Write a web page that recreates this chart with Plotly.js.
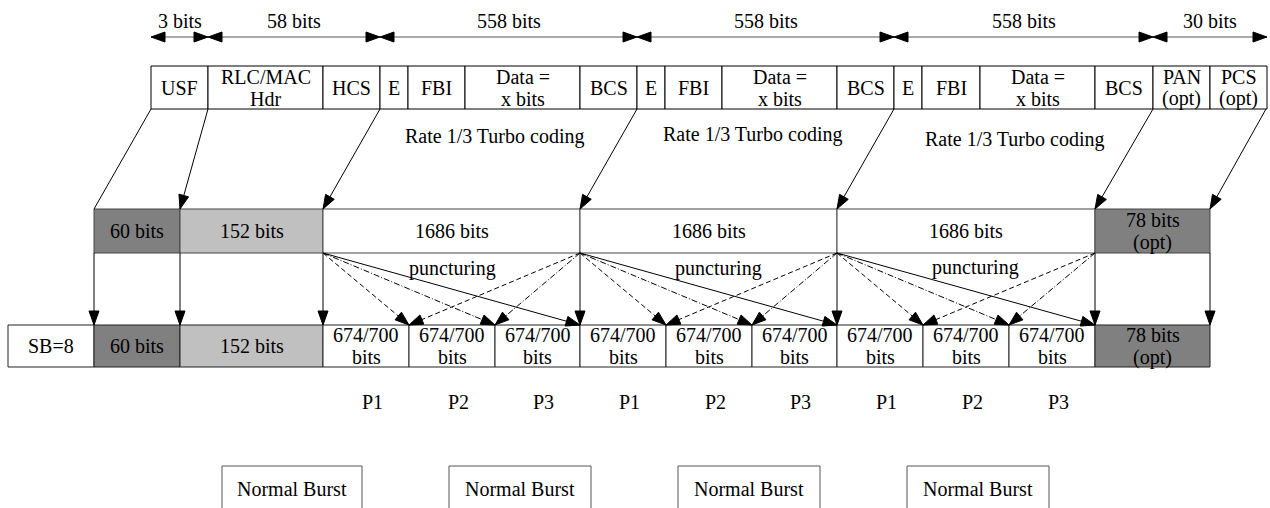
<!DOCTYPE html>
<html>
<head>
<meta charset="utf-8">
<script src="https://cdn.plot.ly/plotly-3.0.1.min.js"></script>
<style>html,body{margin:0;padding:0;background:#fff;}#chart{width:1270px;height:508px;}</style>
</head>
<body>
<div id="chart"></div>
<script>
// ---- content (labels) ----
const spanLabels = ['3 bits', '58 bits', '558 bits', '558 bits', '558 bits', '30 bits'];
const topLabels = ['USF', 'RLC/MAC<br>Hdr', 'HCS',
  'E', 'FBI', 'Data =<br>x bits', 'BCS',
  'E', 'FBI', 'Data =<br>x bits', 'BCS',
  'E', 'FBI', 'Data =<br>x bits', 'BCS',
  'PAN<br>(opt)', 'PCS<br>(opt)'];
const codingLabels = ['Rate 1/3 Turbo coding', 'Rate 1/3 Turbo coding', 'Rate 1/3 Turbo coding'];
const midLabels = ['60 bits', '152 bits', '1686 bits', '1686 bits', '1686 bits', '78 bits<br>(opt)'];
const puncLabels = ['puncturing', 'puncturing', 'puncturing'];
const botLabels = ['SB=8', '60 bits', '152 bits',
  '674/700<br>bits', '674/700<br>bits', '674/700<br>bits',
  '674/700<br>bits', '674/700<br>bits', '674/700<br>bits',
  '674/700<br>bits', '674/700<br>bits', '674/700<br>bits',
  '78 bits<br>(opt)'];
const partLabels = ['P1', 'P2', 'P3', 'P1', 'P2', 'P3', 'P1', 'P2', 'P3'];
const burstLabels = ['Normal Burst', 'Normal Burst', 'Normal Burst', 'Normal Burst'];

// ---- layout geometry (diagram coordinates, not data) ----
const G = {
  spanEdges: [151, 208, 380, 637, 894, 1153, 1267], spanY: 37, spanTextY: 21,
  topEdges: [151, 208, 323, 380, 408, 465, 580, 637, 665, 722, 837, 894, 922, 980, 1095, 1153, 1210, 1267],
  topY: [66, 109],
  codingPos: [[494, 136], [752, 134], [1014, 139]],
  midEdges: [94, 180, 323, 580, 837, 1095, 1210], midY: [209, 253],
  midFill: ['#808080', '#c0c0c0', '#ffffff', '#ffffff', '#ffffff', '#808080'],
  puncPos: [[452, 268], [718, 268], [975, 267]],
  botEdges: [8, 94, 180, 323, 409, 495, 580, 666, 752, 837, 923, 1009, 1095, 1210],
  botY: [325, 367],
  botFill: ['#ffffff', '#808080', '#c0c0c0', '#fff', '#fff', '#fff', '#fff', '#fff', '#fff', '#fff', '#fff', '#fff', '#808080'],
  partY: 402, partShift: 6,
  burstEdges: [[222, 362], [449, 591], [678, 820], [907, 1049]], burstY: [466, 540], burstTextY: 489,
  lineGap: 22
};

const FONT = {family: 'Liberation Serif, Times New Roman, serif', size: 20, color: '#000'};
const shapes = [];
const annotations = [];

function rect(x0, x1, y0, y1, fill, lc) {
  shapes.push({type: 'rect', xref: 'x', yref: 'y', x0, x1, y0, y1,
    fillcolor: fill, line: {color: lc || '#000', width: 1}, layer: 'below'});
}
function line(x0, y0, x1, y1, dash, color) {
  shapes.push({type: 'line', xref: 'x', yref: 'y', x0, y0, x1, y1,
    line: {color: color || '#000', width: 1, dash: dash || 'solid'}});
}
function head(fx, fy, tx, ty, len, hw) {
  len = len || 14; hw = hw || 5;
  const dx = tx - fx, dy = ty - fy, d = Math.hypot(dx, dy);
  const ux = dx / d, uy = dy / d;
  const bx = tx - ux * len, by = ty - uy * len;
  const px = -uy * hw, py = ux * hw;
  shapes.push({type: 'path', xref: 'x', yref: 'y',
    path: `M${tx},${ty} L${bx + px},${by + py} L${bx - px},${by - py} Z`,
    fillcolor: '#000', line: {color: '#000', width: 1}});
}
function arrow(fx, fy, tx, ty, dash) {
  line(fx, fy, tx, ty, dash);
  head(fx, fy, tx, ty);
}
function text(x, y, t) {
  const parts = t.split('<br>');
  const n = parts.length;
  parts.forEach((p, j) => {
    annotations.push({xref: 'x', yref: 'y', x, y: y + (j - (n - 1) / 2) * G.lineGap,
      text: p, showarrow: false, font: FONT, xanchor: 'center', yanchor: 'middle'});
  });
}

// span dimension arrows
for (let i = 0; i < spanLabels.length; i++) {
  const a = G.spanEdges[i], b = G.spanEdges[i + 1], y = G.spanY;
  line(a, y, b, y, 'solid', '#555');
  head(b, y, a, y, 14, 5);
  head(a, y, b, y, 14, 5);
  text((a + b) / 2, G.spanTextY, spanLabels[i]);
}

// top row boxes
for (let i = 0; i < topLabels.length; i++) {
  const a = G.topEdges[i], b = G.topEdges[i + 1];
  rect(a, b, G.topY[0], G.topY[1], '#fff');
  text((a + b) / 2, (G.topY[0] + G.topY[1]) / 2, topLabels[i]);
}
codingLabels.forEach((t, i) => text(G.codingPos[i][0], G.codingPos[i][1], t));

// top -> middle diagonals
const topSrc = [G.topEdges[0], G.topEdges[1], G.topEdges[3], G.topEdges[7], G.topEdges[11], G.topEdges[15], G.topEdges[17] - 1];
topSrc.forEach((sx, i) => {
  const tx = G.midEdges[i];
  if (i === 0) line(sx, G.topY[1], tx, G.midY[0]);
  else arrow(sx, G.topY[1], tx, G.midY[0]);
});

// middle row
for (let i = 0; i < midLabels.length; i++) {
  const a = G.midEdges[i], b = G.midEdges[i + 1];
  rect(a, b, G.midY[0], G.midY[1], G.midFill[i], '#444');
  text((a + b) / 2, (G.midY[0] + G.midY[1]) / 2, midLabels[i]);
}
puncLabels.forEach((t, i) => text(G.puncPos[i][0], G.puncPos[i][1], t));

// vertical arrows middle -> bottom
G.midEdges.forEach(x => arrow(x, G.midY[1], x, G.botY[0]));

// puncturing arrows
for (let k = 0; k < 3; k++) {
  const s = G.midEdges[2 + k], e = G.midEdges[3 + k];
  const b1 = G.botEdges[4 + 3 * k], b2 = G.botEdges[5 + 3 * k], b3 = G.botEdges[6 + 3 * k];
  arrow(s, G.midY[1], b1, G.botY[0], '5px,3px');
  arrow(s, G.midY[1], b2, G.botY[0], '6px,2px,1px,2px');
  arrow(s, G.midY[1], b3, G.botY[0], 'solid');
  arrow(e, G.midY[1], b1, G.botY[0], '5px,3px');
  arrow(e, G.midY[1], b2, G.botY[0], '6px,2px,1px,2px');
}

// bottom row
for (let i = 0; i < botLabels.length; i++) {
  const a = G.botEdges[i], b = G.botEdges[i + 1];
  rect(a, b, G.botY[0], G.botY[1], G.botFill[i], '#222');
  text((a + b) / 2, (G.botY[0] + G.botY[1]) / 2, botLabels[i]);
}
partLabels.forEach((t, i) => {
  const a = G.botEdges[3 + i], b = G.botEdges[4 + i];
  text((a + b) / 2 + G.partShift, G.partY, t);
});

// normal bursts
burstLabels.forEach((t, i) => {
  const [a, b] = G.burstEdges[i];
  rect(a, b, G.burstY[0], G.burstY[1], '#fff', '#555');
  text((a + b) / 2, G.burstTextY, t);
});

const layout = {
  width: 1270, height: 508,
  margin: {l: 0, r: 0, t: 0, b: 0},
  paper_bgcolor: '#fff', plot_bgcolor: '#fff',
  showlegend: false,
  xaxis: {range: [0, 1270], visible: false, fixedrange: true},
  yaxis: {range: [508, 0], visible: false, fixedrange: true},
  shapes, annotations
};
Plotly.newPlot('chart', [{x: [], y: [], type: 'scatter'}], layout, {staticPlot: true, displayModeBar: false});
</script>
</body>
</html>
